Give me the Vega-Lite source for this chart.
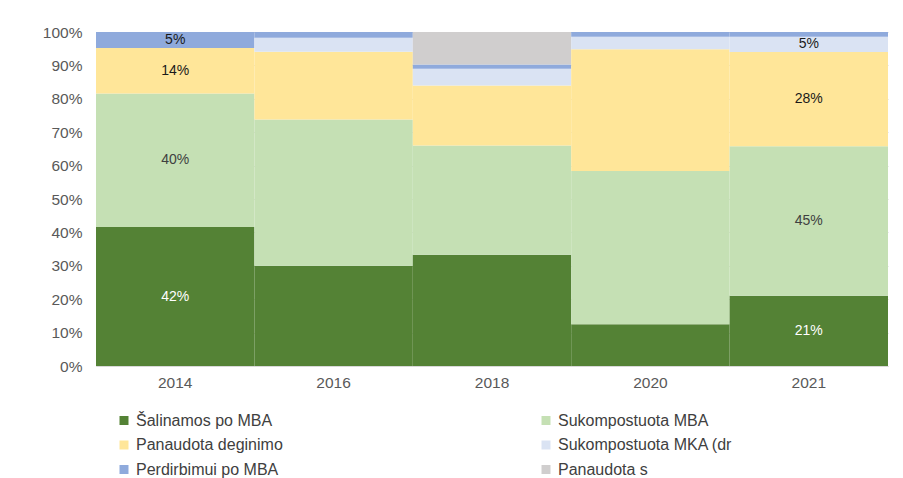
{
  "$schema": "https://vega.github.io/schema/vega-lite/v6.json",
  "width": 792,
  "height": 334,
  "autosize": "none",
  "padding": {"left": 96, "top": 32, "right": 15, "bottom": 112},
  "background": "white",
  "config": {
    "view": {"stroke": null},
    "font": "Liberation Sans",
    "axis": {"labelFont": "Liberation Sans", "labelColor": "#595959", "labelFontSize": 15.5, "labelOverlap": false},
    "axisY": {"labelOverlap": false, "labelFlush": false},
    "legend": {"labelFont": "Liberation Sans", "labelColor": "#404040", "labelFontSize": 16}
  },
  "data": {
    "values": [
      {"year": "2014", "category": "Šalinamos po MBA", "value": 0.416},
      {"year": "2014", "category": "Sukompostuota MBA", "value": 0.400},
      {"year": "2014", "category": "Panaudota deginimo", "value": 0.136},
      {"year": "2014", "category": "Sukompostuota MKA (dr", "value": 0.0},
      {"year": "2014", "category": "Perdirbimui po MBA", "value": 0.048},
      {"year": "2014", "category": "Panaudota s", "value": 0.0},
      {"year": "2016", "category": "Šalinamos po MBA", "value": 0.300},
      {"year": "2016", "category": "Sukompostuota MBA", "value": 0.438},
      {"year": "2016", "category": "Panaudota deginimo", "value": 0.203},
      {"year": "2016", "category": "Sukompostuota MKA (dr", "value": 0.042},
      {"year": "2016", "category": "Perdirbimui po MBA", "value": 0.017},
      {"year": "2016", "category": "Panaudota s", "value": 0.0},
      {"year": "2018", "category": "Šalinamos po MBA", "value": 0.333},
      {"year": "2018", "category": "Sukompostuota MBA", "value": 0.327},
      {"year": "2018", "category": "Panaudota deginimo", "value": 0.180},
      {"year": "2018", "category": "Sukompostuota MKA (dr", "value": 0.050},
      {"year": "2018", "category": "Perdirbimui po MBA", "value": 0.013},
      {"year": "2018", "category": "Panaudota s", "value": 0.097},
      {"year": "2020", "category": "Šalinamos po MBA", "value": 0.125},
      {"year": "2020", "category": "Sukompostuota MBA", "value": 0.459},
      {"year": "2020", "category": "Panaudota deginimo", "value": 0.364},
      {"year": "2020", "category": "Sukompostuota MKA (dr", "value": 0.038},
      {"year": "2020", "category": "Perdirbimui po MBA", "value": 0.014},
      {"year": "2020", "category": "Panaudota s", "value": 0.0},
      {"year": "2021", "category": "Šalinamos po MBA", "value": 0.210},
      {"year": "2021", "category": "Sukompostuota MBA", "value": 0.448},
      {"year": "2021", "category": "Panaudota deginimo", "value": 0.282},
      {"year": "2021", "category": "Sukompostuota MKA (dr", "value": 0.046},
      {"year": "2021", "category": "Perdirbimui po MBA", "value": 0.014},
      {"year": "2021", "category": "Panaudota s", "value": 0.0}
    ]
  },
  "transform": [
    {"calculate": "indexof(['Šalinamos po MBA','Sukompostuota MBA','Panaudota deginimo','Sukompostuota MKA (dr','Perdirbimui po MBA','Panaudota s'], datum.category)", "as": "ord"},
    {"stack": "value", "groupby": ["year"], "sort": [{"field": "ord", "order": "ascending"}], "as": ["y0", "y1"]},
    {"calculate": "(datum.y0 + datum.y1) / 2", "as": "mid"}
  ],
  "layer": [
    {
      "mark": {"type": "bar"},
      "encoding": {
        "x": {
          "field": "year", "type": "ordinal",
          "scale": {"paddingInner": 0, "paddingOuter": 0},
          "axis": {"title": null, "labelAngle": 0, "ticks": false, "domainColor": "#D9D9D9", "labelPadding": 9}
        },
        "y": {
          "field": "y0", "type": "quantitative",
          "scale": {"domain": [0, 1], "nice": false},
          "axis": {"title": null, "format": ".0%", "values": [0,0.1,0.2,0.3,0.4,0.5,0.6,0.7,0.8,0.9,1], "labelOverlap": false, "domain": false, "ticks": false, "grid": true, "gridColor": "#D9D9D9", "labelPadding": 14}
        },
        "y2": {"field": "y1"},
        "color": {
          "field": "category", "type": "nominal",
          "sort": ["Šalinamos po MBA", "Sukompostuota MBA", "Panaudota deginimo", "Sukompostuota MKA (dr", "Perdirbimui po MBA", "Panaudota s"],
          "scale": {
            "domain": ["Šalinamos po MBA", "Sukompostuota MBA", "Panaudota deginimo", "Sukompostuota MKA (dr", "Perdirbimui po MBA", "Panaudota s"],
            "range": ["#548235", "#C5E0B4", "#FFE699", "#DAE3F3", "#8FAADC", "#D0CECE"]
          },
          "legend": {
            "title": null, "orient": "none", "direction": "horizontal", "columns": 2,
            "legendX": 20, "legendY": 380.5, "symbolType": "square", "symbolSize": 81,
            "symbolStrokeWidth": 0, "rowPadding": 8.5, "columnPadding": 227, "gridAlign": "all", "labelOffset": 4, "labelLimit": 300
          }
        }
      }
    },
    {
      "transform": [{"filter": "(datum.year == '2014' || datum.year == '2021') && datum.value >= 0.03"}],
      "mark": {"type": "text", "fontSize": 14, "font": "Liberation Sans"},
      "encoding": {
        "x": {"field": "year", "type": "ordinal"},
        "y": {"field": "mid", "type": "quantitative", "axis": {"title": null, "format": ".0%", "values": [0,0.1,0.2,0.3,0.4,0.5,0.6,0.7,0.8,0.9,1], "labelOverlap": false, "domain": false, "ticks": false, "grid": true, "gridColor": "#D9D9D9", "labelPadding": 14}},
        "text": {"field": "value", "type": "quantitative", "format": ".0%"},
        "color": {
          "condition": [
            {"test": "datum.category == 'Šalinamos po MBA'", "value": "#FFFFFF"},
            {"test": "datum.category == 'Sukompostuota MBA'", "value": "#404040"}
          ],
          "value": "#1a1a1a"
        }
      }
    }
  ]
}
